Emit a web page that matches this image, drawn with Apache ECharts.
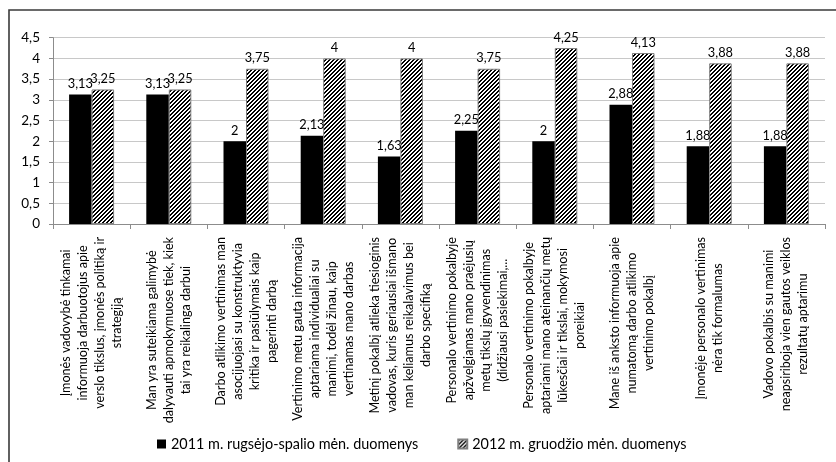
<!DOCTYPE html>
<html>
<head>
<meta charset="utf-8">
<script src="https://cdn.jsdelivr.net/npm/echarts@6/dist/echarts.min.js"></script>
<style>
  html, body { margin: 0; padding: 0; background: #fff; }
  #chart { width: 836px; height: 462px; }
</style>
</head>
<body>
<div id="chart"></div>
<script>
// Survey statements (axis categories), line breaks as they wrap under the axis
const categories = [
  'Įmonės vadovybė tinkamai\ninformuoja darbuotojus apie\nverslo tikslus, įmonės politiką ir\nstrategiją',
  'Man yra suteikiama galimybė\ndalyvauti apmokymuose tiek, kiek\ntai yra reikalinga darbui',
  'Darbo atlikimo vertinimas man\nasocijuojasi su konstruktyvia\nkritika ir pasiūlymais kaip\npagerinti darbą',
  'Vertinimo metu gauta informacija\naptariama individualiai su\nmanimi, todėl žinau, kaip\nvertinamas mano darbas',
  'Metinį pokalbį atlieka tiesioginis\nvadovas, kuris geriausiai išmano\nman keliamus reikalavimus bei\ndarbo specifiką',
  'Personalo vertinimo pokalbyje\napžvelgiamas mano praėjusių\nmetų tikslų įgyvendinimas\n(didžiausi pasiekimai,...',
  'Personalo vertinimo pokalbyje\naptariami mano ateinančių metų\nlūkesčiai ir tikslai, mokymosi\nporeikiai',
  'Mane iš anksto informuoja apie\nnumatomą darbo atlikimo\nvertinimo pokalbį',
  'Įmonėje personalo vertinimas\nnėra tik formalumas',
  'Vadovo pokalbis su manimi\nneapsiriboja vien gautos veiklos\nrezultatų aptarimu'
];

const seriesNames = [
  '2011 m. rugsėjo-spalio mėn. duomenys',
  '2012 m. gruodžio mėn. duomenys'
];

// Average scores per statement
const values2011 = [3.13, 3.13, 2, 2.13, 1.63, 2.25, 2, 2.88, 1.88, 1.88];
const values2012 = [3.25, 3.25, 3.75, 4, 4, 3.75, 4.25, 4.13, 3.88, 3.88];

// Value-axis ticks
const yTicks = [0, 0.5, 1, 1.5, 2, 2.5, 3, 3.5, 4, 4.5];

const FONT = 'Lato, "Noto Sans", sans-serif';
const comma = v => String(v).replace('.', ',');

// Diagonal hatch fill (///) for the second series
function hatchPattern() {
  const size = 4;
  const c = document.createElement('canvas');
  c.width = size; c.height = size;
  const ctx = c.getContext('2d');
  ctx.fillStyle = '#ffffff';
  ctx.fillRect(0, 0, size, size);
  ctx.fillStyle = '#000000';
  for (let x = 0; x < size; x++) {
    for (let y = 0; y < size; y++) {
      const d = (x + y) % size;
      if (d === 0 || d === 1) ctx.fillRect(x, y, 1, 1);
    }
  }
  return { image: c, repeat: 'repeat' };
}
const hatch = hatchPattern();

const chart = echarts.init(document.getElementById('chart'), null, { renderer: 'canvas' });

chart.setOption({
  animation: false,
  backgroundColor: '#ffffff',
  graphic: [{
    type: 'rect',
    shape: { x: 9, y: 10, width: 900, height: 500 },
    style: { fill: 'none', stroke: '#3a3a3a', lineWidth: 1.6 },
    silent: true,
    z: 100
  }],
  grid: { left: 53, right: 11, top: 37.7, bottom: 238, containLabel: false },
  legend: {
    left: 152,
    top: 432,
    itemWidth: 9,
    itemHeight: 9,
    itemGap: 39,
    icon: 'rect',
    textStyle: { fontFamily: FONT, fontSize: 14.4, color: '#000' },
    data: seriesNames
  },
  xAxis: {
    type: 'category',
    data: categories,
    axisLine: { lineStyle: { color: '#8c8c8c', width: 1 } },
    axisTick: { show: true, length: 5, lineStyle: { color: '#8c8c8c' } },
    axisLabel: {
      interval: 0,
      rotate: 90,
      margin: 13,
      color: '#000',
      formatter: v => v.split('\n').map(l => '{c|' + l + '}').join('\n'),
      rich: {
        c: { align: 'center', fontFamily: FONT, fontSize: 12.6, lineHeight: 17, color: '#000' }
      }
    }
  },
  yAxis: {
    type: 'value',
    min: yTicks[0],
    max: yTicks[yTicks.length - 1],
    interval: 0.5,
    axisLine: { show: true, lineStyle: { color: '#8c8c8c', width: 1 } },
    axisTick: { show: true, length: 4, lineStyle: { color: '#8c8c8c' } },
    axisLabel: {
      color: '#000',
      fontFamily: FONT,
      fontSize: 13.5,
      margin: 13,
      formatter: v => comma(v)
    },
    splitLine: { lineStyle: { color: '#c8c8c8', width: 1 } }
  },
  series: [
    {
      name: seriesNames[0],
      type: 'bar',
      data: values2011,
      barWidth: 22.5,
      barGap: '0%',
      itemStyle: { color: '#000000' },
      label: {
        show: true, position: 'top', distance: 4,
        fontFamily: FONT, fontSize: 12.8, color: '#000',
        formatter: p => comma(p.value)
      }
    },
    {
      name: seriesNames[1],
      type: 'bar',
      data: values2012,
      barWidth: 22.5,
      barGap: '0%',
      itemStyle: { color: hatch, borderColor: '#7f7f7f', borderWidth: 1 },
      label: {
        show: true, position: 'top', distance: 4,
        fontFamily: FONT, fontSize: 12.8, color: '#000',
        formatter: p => comma(p.value)
      }
    }
  ]
});
</script>
</body>
</html>
